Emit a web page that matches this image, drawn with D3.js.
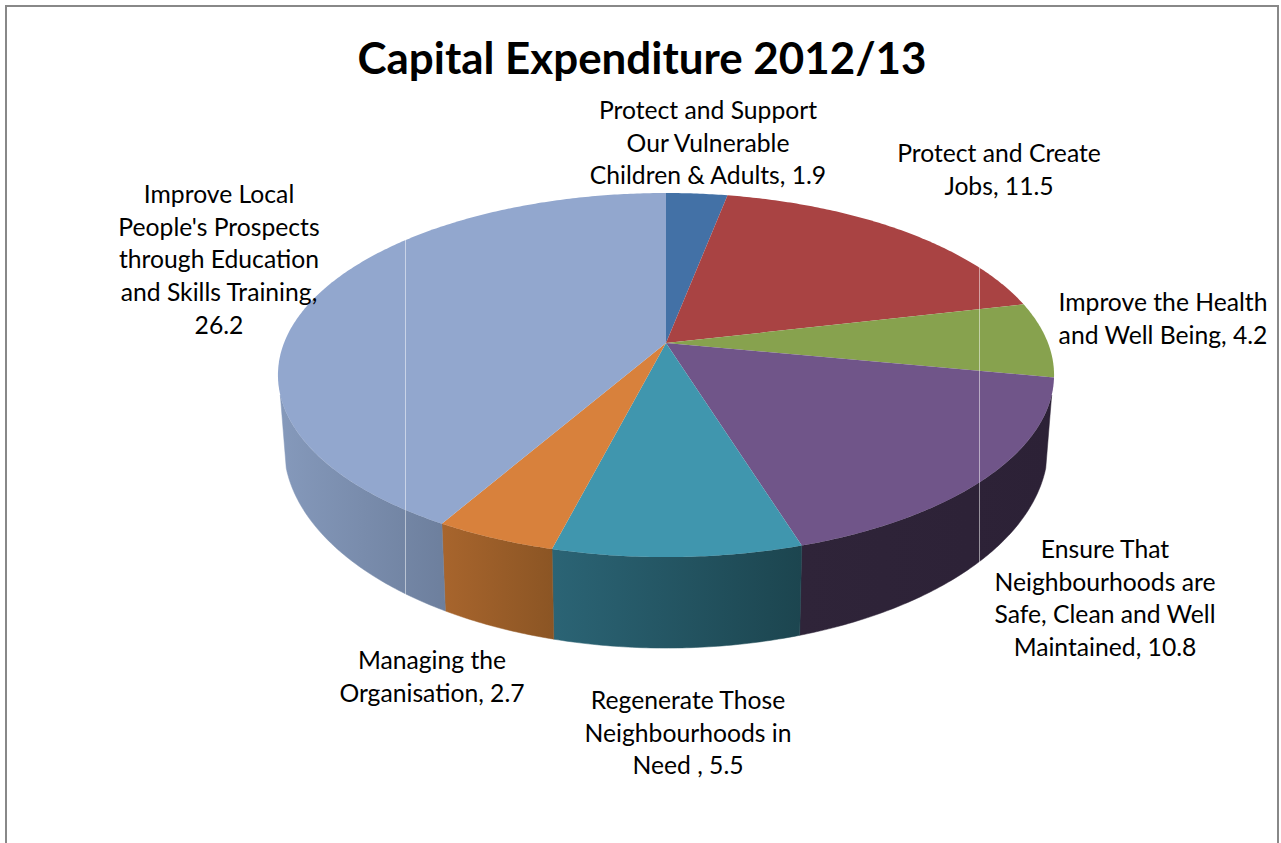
<!DOCTYPE html>
<html><head><meta charset="utf-8">
<script src="https://cdn.jsdelivr.net/npm/d3@7/dist/d3.min.js"></script>
<style>html,body{margin:0;padding:0;background:#fff;overflow:hidden}</style>
</head><body><svg id="c" width="1281" height="843" style="display:block"></svg>
<script>
const titleText = "Capital Expenditure 2012/13";
const categories = ["Protect and Support Our Vulnerable Children & Adults","Protect and Create Jobs","Improve the Health and Well Being","Ensure That Neighbourhoods are Safe, Clean and Well Maintained","Regenerate Those Neighbourhoods in Need ","Managing the Organisation","Improve Local People's Prospects through Education and Skills Training"];
const values = [1.9,11.5,4.2,10.8,5.5,2.7,26.2];
const topColors = ["#4371a6","#a94343","#87a24e","#705589","#4096ae","#d8813c","#92a7ce"];
const wallLeft = ["#3a6290","#8f3a3a","#738a42","#2f2439","#2b6475","#a8652d","#8599bb"];
const wallRight = ["#2f5074","#702d2d","#5c6f35","#2c2136","#1c454f","#8b5524","#6d7f9d"];
const labelWordCounts = [[3,2,4],[3,2],[3,4],[2,2,4,2],[2,2,3],[2,2],[2,2,2,3,1]];
const labelAnchors = [[708,119],[999,162],[1163,311],[1105,558],[688,709],[432,669],[219,203]];

const svg = d3.select("#c");
const apex = {x:666,y:343}, A = 382, B = 176.4, K = 0.176;
const top2bottom = p => [666+(p[0]-666)*382/388, 446+(p[1]-375)*202/182];
const proj = t => { const u=Math.sin(t), v=-Math.cos(t), d=1-K*v; return [apex.x+A*u/d, apex.y+B*v/d]; };
const slices = d3.pie().sort(null).startAngle(0).endAngle(2*Math.PI)(values);
const sample = (a,b) => { const n=Math.max(2,Math.ceil((b-a)/0.01)); return d3.range(n+1).map(i=>a+(b-a)*i/n); };
const line = d3.line();
const defs = svg.append("defs");
const frontA = 106.3*Math.PI/180, frontB = 253.7*Math.PI/180;

svg.append("path").attr("d","M6,843V6H1278V843").attr("fill","none").attr("stroke","#888").attr("stroke-width",2);

slices.forEach((s,i)=>{
  const a=Math.max(s.startAngle,frontA), b=Math.min(s.endAngle,frontB);
  if(b<=a) return;
  const g=defs.append("linearGradient").attr("id","w"+i);
  g.append("stop").attr("offset",0).attr("stop-color",wallLeft[i]);
  g.append("stop").attr("offset",1).attr("stop-color",wallRight[i]);
  const tp=sample(a,b).map(proj);
  const bp=tp.map(top2bottom).reverse();
  svg.append("path").attr("d",line(tp.concat(bp))+"Z").attr("fill",`url(#w${i})`).attr("stroke",`url(#w${i})`).attr("stroke-width",0.5);
});
slices.forEach((s,i)=>{
  const pts=[[apex.x,apex.y]].concat(sample(s.startAngle,s.endAngle).map(proj));
  svg.append("path").attr("d",line(pts)+"Z").attr("fill",topColors[i]);
});
[[405,239,596],[979,268,563]].forEach(l=>{
  svg.append("line").attr("x1",l[0]+.5).attr("x2",l[0]+.5).attr("y1",l[1]).attr("y2",l[2]).attr("stroke","#fff").attr("stroke-opacity",.5).attr("stroke-width",1);
});
svg.append("text").attr("x",642).attr("y",73.5).attr("text-anchor","middle").attr("font-family","Lato").attr("font-weight",700).attr("font-size",43.9).attr("fill","#000").text(titleText);
categories.forEach((c,i)=>{
  const words=(c+", "+values[i]).split(/\s+/);
  let k=0;
  const t=svg.append("text").attr("text-anchor","middle").attr("font-family","Lato").attr("font-size",24.7).attr("fill","#000");
  labelWordCounts[i].forEach((n,j)=>{
    t.append("tspan").attr("x",labelAnchors[i][0]).attr("y",labelAnchors[i][1]+j*32.7).text(words.slice(k,k+n).join(" "));
    k+=n;
  });
});
</script></body></html>
